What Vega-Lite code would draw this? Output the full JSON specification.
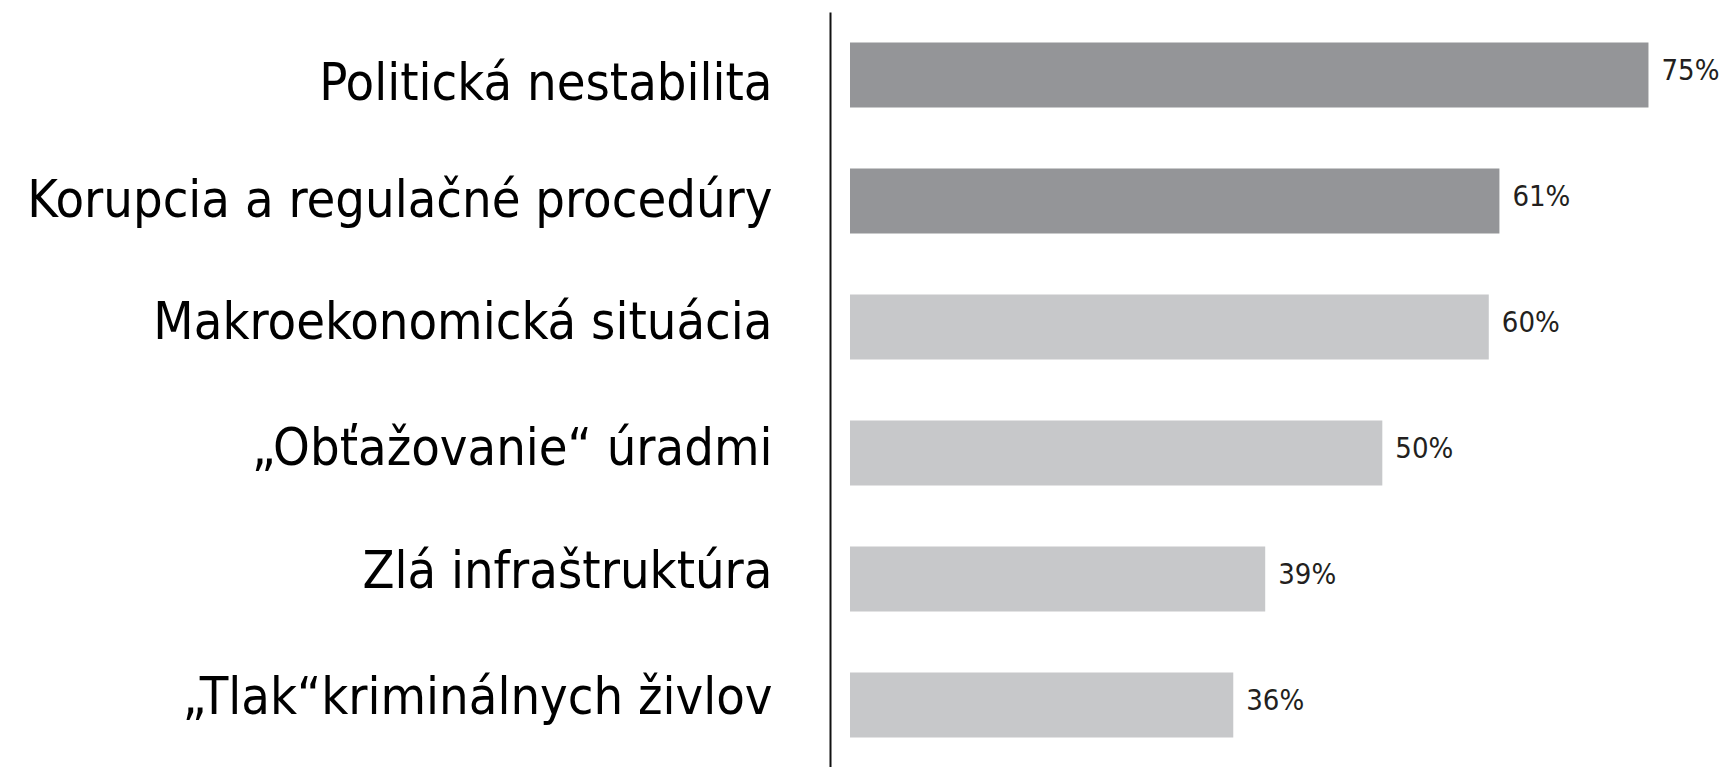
{
  "$schema": "https://vega.github.io/schema/vega-lite/v6.json",
  "autosize": {"type": "none"},
  "padding": {"left": 850, "top": 12, "right": 0, "bottom": 0},
  "width": 873,
  "height": 756,
  "background": "#ffffff",
  "config": {"view": {"stroke": null}},
  "data": {
    "values": [
      {"factor": "Politická nestabilita", "pct": 75, "label": "75%", "group": "top"},
      {"factor": "Korupcia a regulačné procedúry", "pct": 61, "label": "61%", "group": "top"},
      {"factor": "Makroekonomická situácia", "pct": 60, "label": "60%", "group": "rest"},
      {"factor": "„Obťažovanie“ úradmi", "pct": 50, "label": "50%", "group": "rest"},
      {"factor": "Zlá infraštruktúra", "pct": 39, "label": "39%", "group": "rest"},
      {"factor": "„Tlak“kriminálnych živlov", "pct": 36, "label": "36%", "group": "rest"}
    ]
  },
  "encoding": {
    "y": {
      "field": "factor",
      "type": "nominal",
      "sort": null,
      "scale": {"paddingInner": 0.484, "paddingOuter": 0.242},
      "axis": {
        "title": null,
        "offset": 20,
        "ticks": false,
        "grid": false,
        "domainColor": "#111111",
        "domainWidth": 2,
        "labelFont": "DejaVu Sans Condensed",
        "labelFontSize": 52,
        "labelColor": "#000000",
        "labelPadding": 58,
        "labelLimit": 900,
        "labelOffset": {
          "condition": [
            {"test": "datum.index < 0.1", "value": 9},
            {"test": "datum.index < 0.3", "value": 0},
            {"test": "datum.index < 0.7", "value": -4}
          ],
          "value": -7
        }
      }
    },
    "x": {
      "field": "pct",
      "type": "quantitative",
      "scale": {"domain": [0, 82], "nice": false},
      "axis": null
    }
  },
  "layer": [
    {
      "mark": {"type": "bar"},
      "encoding": {
        "color": {
          "field": "group",
          "type": "nominal",
          "scale": {"domain": ["top", "rest"], "range": ["#949598", "#c7c8ca"]},
          "legend": null
        }
      }
    },
    {
      "mark": {"type": "text", "align": "left", "baseline": "middle", "dx": 13, "dy": -4, "font": "DejaVu Sans Condensed", "fontSize": 29, "color": "#231f20"},
      "encoding": {"text": {"field": "label"}}
    }
  ]
}
